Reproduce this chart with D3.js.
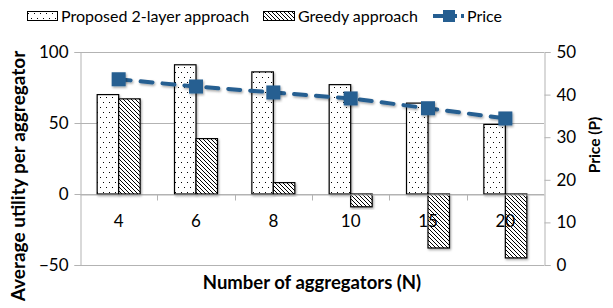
<!DOCTYPE html>
<html>
<head>
<meta charset="utf-8">
<script src="https://cdn.jsdelivr.net/npm/d3@7"></script>
<style>
  body { margin: 0; background: #fff; }
  text { font-family: Lato, "Open Sans", sans-serif; }
</style>
</head>
<body>
<script>
const width = 613;
const height = 308;

const categories = ["4", "6", "8", "10", "15", "20"];
const proposed = [70, 91, 86, 77, 64, 49];
const greedy = [67, 39, 8, -9, -38, -45];
const price = [43.6, 41.9, 40.5, 39.1, 36.8, 34.4];
const leftTicks = [-50, 0, 50, 100];
const rightTicks = [0, 10, 20, 30, 40, 50];

const margin = { left: 80, right: 69, top: 52, bottom: 43 };
const blue = "#255e91";

const svg = d3.select("body")
  .append("svg")
  .attr("width", width)
  .attr("height", height);

const defs = svg.append("defs");

const dots = defs.append("pattern")
  .attr("id", "dots")
  .attr("patternUnits", "userSpaceOnUse")
  .attr("width", 6)
  .attr("height", 10);
dots.append("rect").attr("width", 6).attr("height", 10).attr("fill", "#fff");
dots.append("rect").attr("x", 1).attr("y", 2).attr("width", 1).attr("height", 1).attr("fill", "#000");
dots.append("rect").attr("x", 4).attr("y", 7).attr("width", 1).attr("height", 1).attr("fill", "#000");

const hatch = defs.append("pattern")
  .attr("id", "hatch")
  .attr("patternUnits", "userSpaceOnUse")
  .attr("width", 4)
  .attr("height", 4);
hatch.append("rect").attr("width", 4).attr("height", 4).attr("fill", "#fff");
hatch.append("path")
  .attr("d", "M-1,-1 L5,5 M-1,3 L1,5 M3,-1 L5,1")
  .attr("stroke", "#000")
  .attr("stroke-width", 1);

defs.append("filter")
  .attr("id", "shadow")
  .attr("x", "-20%").attr("y", "-20%").attr("width", "140%").attr("height", "140%")
  .append("feDropShadow")
  .attr("dx", 1).attr("dy", 1.5).attr("stdDeviation", 1)
  .attr("flood-color", "#000").attr("flood-opacity", 0.35);

const x = d3.scaleBand()
  .domain(categories)
  .range([margin.left, width - margin.right]);

const xSub = d3.scaleBand()
  .domain(["proposed", "greedy"])
  .range([0, x.bandwidth()])
  .paddingInner(0)
  .paddingOuter(0.8);

const y = d3.scaleLinear()
  .domain([-50, 100])
  .range([height - margin.bottom, margin.top]);

const yRight = d3.scaleLinear()
  .domain([0, 50])
  .range([height - margin.bottom, margin.top]);

// gridlines
svg.append("g")
  .selectAll("line")
  .data(leftTicks)
  .join("line")
  .attr("x1", margin.left)
  .attr("x2", width - margin.right)
  .attr("y1", d => Math.round(y(d)) + 0.5)
  .attr("y2", d => Math.round(y(d)) + 0.5)
  .attr("stroke", "#b3b3b3")
  .attr("stroke-width", 1);

// left axis
const leftAxis = svg.append("g")
  .attr("transform", `translate(${margin.left + 0.5},0)`)
  .call(d3.axisLeft(y).tickValues(leftTicks).tickSize(6).tickPadding(6));
leftAxis.select(".domain").attr("stroke", "#b3b3b3");
leftAxis.selectAll(".tick line").attr("stroke", "#b3b3b3");
leftAxis.selectAll("text").attr("font-size", 17).attr("fill", "#000");

// right axis
const rightAxis = svg.append("g")
  .attr("transform", `translate(${width - margin.right + 0.5},0)`)
  .call(d3.axisRight(yRight).tickValues(rightTicks).tickSize(6).tickPadding(6));
rightAxis.select(".domain").attr("stroke", "#b3b3b3");
rightAxis.selectAll(".tick line").attr("stroke", "#b3b3b3");
rightAxis.selectAll("text").attr("font-size", 17).attr("fill", "#000");

// bars
const rows = categories.map((c, i) => ({ c, proposed: proposed[i], greedy: greedy[i] }));
const barData = rows.flatMap(r => [
  { c: r.c, key: "proposed", v: r.proposed },
  { c: r.c, key: "greedy", v: r.greedy }
]);

svg.append("g")
  .selectAll("rect")
  .data(barData)
  .join("rect")
  .attr("x", d => x(d.c) + xSub(d.key))
  .attr("width", xSub.bandwidth())
  .attr("y", d => y(Math.max(0, d.v)))
  .attr("height", d => Math.abs(y(d.v) - y(0)))
  .attr("fill", d => d.key === "proposed" ? "url(#dots)" : "url(#hatch)")
  .attr("stroke", "#000")
  .attr("stroke-width", 1.2)
  .attr("filter", "url(#shadow)");

// x axis at zero
const xAxis = svg.append("g")
  .attr("transform", `translate(0,${Math.round(y(0)) + 0.5})`)
  .call(d3.axisBottom(x).tickSize(0).tickPadding(20));
xAxis.select(".domain").attr("stroke", "#b3b3b3");
xAxis.selectAll("text").attr("font-size", 17).attr("fill", "#000");
xAxis.selectAll(".sep")
  .data(categories.slice(1))
  .join("line")
  .attr("x1", d => Math.round(x(d)) + 0.5)
  .attr("x2", d => Math.round(x(d)) + 0.5)
  .attr("y1", 0)
  .attr("y2", 6)
  .attr("stroke", "#b3b3b3");

// price line
const line = d3.line()
  .x((d, i) => x(categories[i]) + x.bandwidth() / 2)
  .y(d => yRight(d));

svg.append("path")
  .datum(price)
  .attr("d", line)
  .attr("fill", "none")
  .attr("stroke", blue)
  .attr("stroke-width", 4)
  .attr("stroke-linecap", "round")
  .attr("stroke-dasharray", "12,10")
  .attr("filter", "url(#shadow)");

svg.append("g")
  .selectAll("rect")
  .data(price)
  .join("rect")
  .attr("x", (d, i) => x(categories[i]) + x.bandwidth() / 2 - 7)
  .attr("y", d => yRight(d) - 7)
  .attr("width", 14)
  .attr("height", 14)
  .attr("fill", blue)
  .attr("filter", "url(#shadow)");

// axis titles
svg.append("text")
  .attr("transform", "translate(25,176) rotate(-90)")
  .attr("text-anchor", "middle")
  .attr("font-size", 19)
  .attr("font-weight", "bold")
  .text("Average utility per aggregator");

svg.append("text")
  .attr("transform", "translate(600,145) rotate(-90)")
  .attr("text-anchor", "middle")
  .attr("font-size", 15.5)
  .attr("font-weight", "bold")
  .text("Price (P)");

svg.append("text")
  .attr("x", 312)
  .attr("y", 289)
  .attr("text-anchor", "middle")
  .attr("font-size", 18.5)
  .attr("font-weight", "bold")
  .text("Number of aggregators (N)");

// legend
const legend = svg.append("g").attr("transform", "translate(0,16)");

legend.append("rect")
  .attr("x", 27.5).attr("y", -4.5).attr("width", 30).attr("height", 9)
  .attr("fill", "url(#dots)").attr("stroke", "#000");
legend.append("text")
  .attr("x", 61).attr("y", 6)
  .attr("font-size", 16)
  .text("Proposed 2-layer approach");

legend.append("rect")
  .attr("x", 263.5).attr("y", -4.5).attr("width", 31).attr("height", 9)
  .attr("fill", "url(#hatch)").attr("stroke", "#000");
legend.append("text")
  .attr("x", 298).attr("y", 6)
  .attr("font-size", 16)
  .text("Greedy approach");

legend.append("line")
  .attr("x1", 433).attr("x2", 464).attr("y1", 0).attr("y2", 0)
  .attr("stroke", blue).attr("stroke-width", 4)
  .attr("stroke-dasharray", "10,4");
legend.append("rect")
  .attr("x", 443).attr("y", -6).attr("width", 12).attr("height", 12)
  .attr("fill", blue);
legend.append("text")
  .attr("x", 467).attr("y", 6)
  .attr("font-size", 16)
  .text("Price");
</script>
</body>
</html>
